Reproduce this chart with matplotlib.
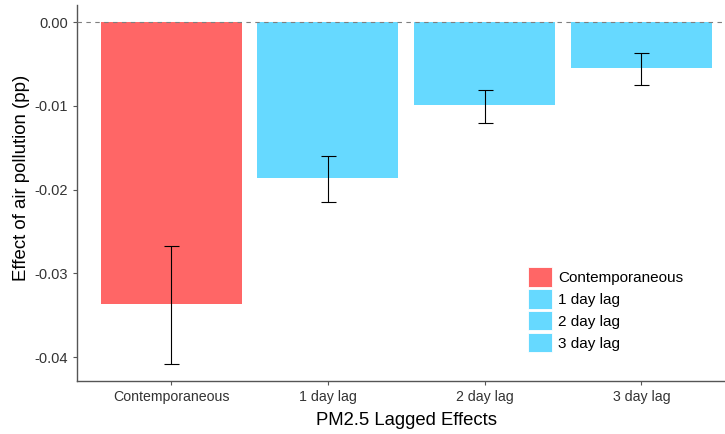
import matplotlib.pyplot as plt
from matplotlib.patches import Patch
import numpy as np

plt.rcParams['font.family'] = ['Liberation Sans', 'DejaVu Sans']

categories = ['Contemporaneous', '1 day lag', '2 day lag', '3 day lag']
estimates = [-0.0337, -0.0186, -0.0099, -0.0055]
ci_low = [-0.0408, -0.0215, -0.0121, -0.0075]
ci_high = [-0.0267, -0.0160, -0.0081, -0.0037]
colors = ['#FF6666', '#66D9FF', '#66D9FF', '#66D9FF']
yticks = [0.0, -0.01, -0.02, -0.03, -0.04]

W, H = 725, 434
fig = plt.figure(figsize=(W / 100, H / 100), dpi=100)
# panel runs past the right edge of the canvas
ax = fig.add_axes([77 / W, (H - 381) / H, (735.5 - 77) / W, (381 - 5) / H])

x = np.arange(1, len(categories) + 1)
est = np.array(estimates)
ax.bar(x, est, width=0.9, color=colors, zorder=2)
ax.errorbar(x, est, yerr=[est - np.array(ci_low), np.array(ci_high) - est],
            fmt='none', ecolor='black', elinewidth=0.8, capsize=5.4, capthick=0.8, zorder=3)
ax.axhline(0, color='#7f7f7f', linestyle=(0, (4, 4)), linewidth=0.8, zorder=4)

span = 0 - min(ci_low)
ax.set_ylim(min(ci_low) - 0.05 * span, 0.05 * span)
ax.set_xlim(0.4, 4.6)
ax.set_xticks(x)
ax.set_xticklabels(categories, fontsize=10.2, color='#333333')
ax.set_yticks(yticks)
ax.set_yticklabels([f'{v:.2f}' for v in yticks], fontsize=10.5, color='#333333')
ax.tick_params(length=3, color='#555555', width=0.8)

for side in ['top', 'right']:
    ax.spines[side].set_visible(False)
for side in ['left', 'bottom']:
    ax.spines[side].set_color('#555555')
    ax.spines[side].set_linewidth(1.0)

ax.set_xlabel('PM2.5 Lagged Effects', fontsize=13.3, labelpad=6)
ax.set_ylabel('Effect of air pollution (pp)', fontsize=13.4)
ax.yaxis.set_label_coords(-0.0714, 0.54)

handles = [Patch(facecolor=c, edgecolor='white', linewidth=0.6) for c in colors]
fig.legend(handles, categories, loc='upper left', bbox_to_anchor=(528 / W, 1 - 267 / H),
           frameon=False, fontsize=11, borderpad=0, borderaxespad=0, handlelength=1.6,
           handleheight=1.6, labelspacing=0.15, handletextpad=0.35)

fig.savefig('out.png', dpi=100)
